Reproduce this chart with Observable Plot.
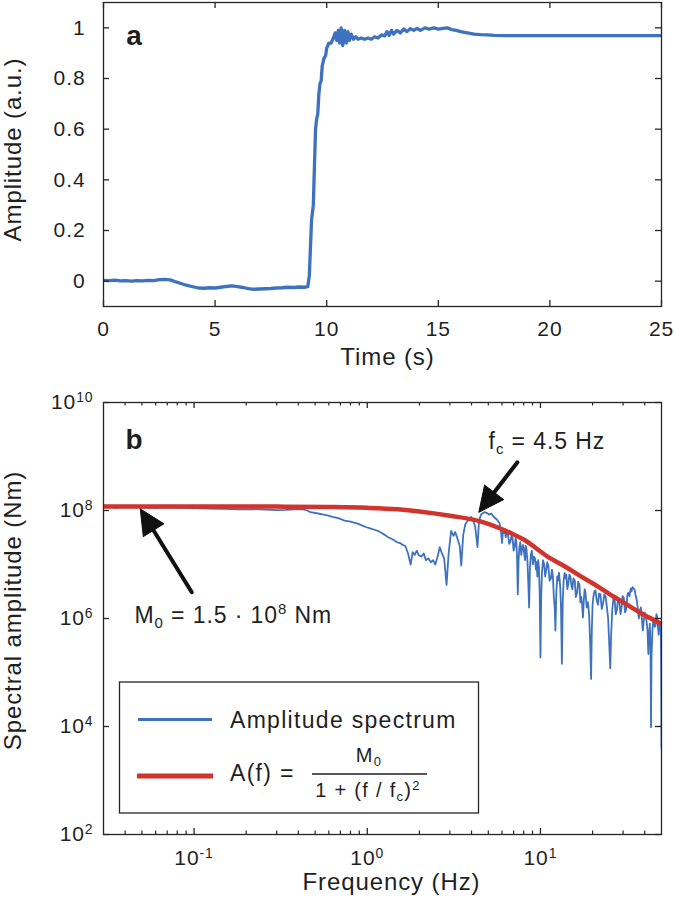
<!DOCTYPE html>
<html><head><meta charset="utf-8">
<script src="https://cdn.jsdelivr.net/npm/d3@7"></script>
<script src="https://cdn.jsdelivr.net/npm/@observablehq/plot@0.6"></script>
<style>
html,body{margin:0;padding:0;background:#fff;}
#wrap{position:relative;width:675px;height:902px;overflow:hidden;font-family:'Liberation Sans',Arial,Helvetica,sans-serif;}
#top,#bot{position:absolute;left:0;}
#top{top:0;} #bot{top:380px;}
#legend{position:absolute;left:0;top:0;pointer-events:none;}
</style></head><body><div id="wrap"><div id="top"></div><div id="bot"></div></div>
<script>
// ---------------- data: panel a (time series) ----------------
const timeSec = [0,0.25,0.5,0.75,1,1.25,1.5,1.75,2,2.25,2.5,2.75,3,3.25,3.5,3.75,4,4.25,4.5,4.75,5,5.25,5.5,5.75,6,6.25,6.5,6.75,7,7.25,7.5,7.75,8,8.25,8.5,8.75,9,9.15,9.22,9.28,9.32,9.36,9.4,9.45,9.5,9.55,9.6,9.65,9.7,9.75,9.8,9.88,9.95,10,10.1,10.2,10.3,10.38,10.45,10.52,10.58,10.65,10.72,10.8,10.88,10.95,11.02,11.1,11.2,11.3,11.4,11.55,11.7,11.85,12,12.15,12.3,12.45,12.6,12.7,12.8,12.9,13,13.15,13.3,13.45,13.6,13.75,13.9,14.05,14.2,14.4,14.6,14.8,15,15.2,15.4,15.6,15.8,16,16.3,16.6,16.9,17.2,17.5,18,19,20,22,25];
const amplitude = [0.003,0.002,0.004,0.001,0.002,0,0.002,0.001,0.003,0.002,0.006,0.007,0.005,-0.003,-0.01,-0.017,-0.022,-0.027,-0.028,-0.026,-0.027,-0.024,-0.021,-0.019,-0.022,-0.025,-0.029,-0.032,-0.031,-0.03,-0.029,-0.027,-0.026,-0.024,-0.025,-0.023,-0.024,-0.022,0.02,0.15,0.24,0.27,0.3,0.45,0.6,0.64,0.66,0.74,0.78,0.79,0.85,0.88,0.89,0.92,0.94,0.94,0.96,0.98,0.95,0.99,0.94,1.0,0.93,0.99,0.94,0.985,0.95,0.975,0.955,0.965,0.955,0.96,0.955,0.96,0.955,0.965,0.96,0.972,0.968,0.985,0.97,0.99,0.975,0.99,0.98,0.995,0.985,0.997,0.99,0.998,0.99,1.0,0.995,1.0,0.995,0.998,1.0,0.993,0.99,0.985,0.98,0.975,0.973,0.972,0.97,0.969,0.969,0.969,0.969,0.969];
const timeTicks = [0,5,10,15,20,25];
const ampTicks = [0,0.2,0.4,0.6,0.8,1];

// ---------------- data: panel b (spectrum) ----------------
const specFreq = [0.03,0.035,0.04,0.05,0.06,0.07,0.08,0.1,0.12,0.15,0.18,0.22,0.26,0.3,0.34,0.38,0.42,0.45,0.47,0.52,0.56,0.59,0.63,0.68,0.74,0.8,0.85,0.88,0.93,0.99,1.05,1.1,1.17,1.22,1.27,1.32,1.38,1.43,1.48,1.55,1.6,1.66,1.72,1.78,1.83,1.88,1.93,1.98,2.05,2.12,2.18,2.25,2.33,2.4,2.47,2.55,2.62,2.7,2.78,2.87,2.95,3.05,3.15,3.22,3.32,3.42,3.49,3.58,3.68,3.8,3.9,3.98,4.1,4.2,4.33,4.42,4.55,4.75,4.9,5.05,5.2,5.4,5.6,5.8,
  5.9,6.0,6.08,6.15,6.22,6.3,6.4,6.5,6.6,6.7,6.8,6.9,7.0,7.1,7.18,7.25,7.32,7.4,7.48,7.55,7.65,7.75,7.85,7.95,8.05,8.15,8.22,8.3,8.42,8.5,8.6,8.7,8.8,8.92,9.05,9.15,9.3,9.42,9.5,9.6,9.7,9.8,9.9,10.0,10.1,10.2,10.35,10.5,10.65,10.8,10.95,11.1,11.3,11.5,11.65,11.8,11.95,12.1,12.2,12.35,12.5,12.6,12.8,13.0,13.15,13.3,13.45,13.6,13.8,14.0,14.1,14.3,14.5,14.7,14.9,15.1,15.3,15.5,15.8,16.0,16.3,16.5,16.8,17.0,17.2,17.4,17.6,17.8,18.0,18.2,18.5,18.8,19.1,19.4,19.6,19.8,20.0,20.2,20.5,20.8,21.1,21.5,21.8,22.2,22.6,23.0,23.4,23.8,24.2,24.6,24.9,25.3,25.6,26.0,26.4,26.8,27.2,27.6,28.0,28.5,29.0,29.4,29.8,30.3,30.8,31.3,31.8,32.2,32.7,33.2,33.6,34.0,34.5,35.0,35.5,36.0,36.5,37.0,37.5,38.0,38.5,39.0,39.5,40.0,40.5,41.0,41.5,42.0,42.4,42.8,43.2,43.5,43.8,44.3,44.8,45.2,45.7,46.2,46.7,47.2,47.7,48.2,48.6,49.0,49.3,49.6,49.8,50.0];
const specAmp = [1.15e8,1.13e8,1.15e8,1.14e8,1.12e8,1.14e8,1.13e8,1.11e8,1.09e8,1.07e8,1.05e8,1.06e8,1.04e8,1.02e8,1.03e8,1.05e8,1.06e8,1.0e8,9.3e7,8.8e7,8.4e7,8.1e7,7.6e7,7.2e7,6.5e7,6.2e7,5.9e7,5.7e7,5.3e7,4.9e7,4.6e7,4.4e7,4.1e7,3.8e7,3.5e7,3.2e7,3.0e7,2.8e7,2.6e7,2.5e7,2.3e7,2.2e7,1.6e7,1.0e7,1.7e7,1.5e7,1.8e7,1.5e7,1.4e7,1.6e7,1.2e7,1.3e7,1.1e7,1.2e7,1.0e7,1.4e7,2.1e7,1.6e7,1.3e7,4.2e6,1.6e7,4.2e7,3.4e7,4.0e7,3.0e7,2.2e7,9.5e6,3.5e7,5.5e7,6.5e7,7.0e7,7.6e7,6.3e7,5.0e7,2.1e7,6.5e7,8.5e7,9.3e7,9.0e7,8.4e7,8.8e7,7.5e7,6.8e7,5.8e7,
  4.6e7,2.5e7,4.2e7,3.8e7,4.6e7,3.2e7,4.0e7,3.5e7,2.4e7,2.6e7,3.4e7,3.1e7,1.8e7,2.2e7,3.0e7,2.8e7,1.5e7,2.8e6,1.2e7,2.0e7,2.6e7,1.5e7,2.1e7,2.3e7,1.6e7,1.2e7,2.2e7,2.0e7,1.1e7,5.0e6,1.6e6,9.0e6,1.5e7,1.8e7,1.0e7,1.4e7,1.3e7,8.0e6,1.1e7,6.0e6,1.2e7,9.0e6,3.0e6,1.9e5,2.5e6,7.0e6,1.2e7,1.0e7,6.0e6,8.0e6,1.1e7,9.5e6,5.0e6,5.5e6,8.0e6,6.0e6,2.5e6,1.5e6,6.0e5,3.0e6,6.0e6,5.0e6,7.0e6,4.0e6,1.5e6,1.45e5,2.0e6,5.0e6,7.0e6,5.5e6,6.5e6,3.5e6,4.5e6,6.5e6,6.0e6,4.0e6,3.5e6,5.5e6,5.0e6,2.5e6,3.0e6,4.8e6,4.2e6,2.0e6,2.5e6,1.8e6,1.05e6,2.2e6,3.5e6,3.0e6,1.6e6,2.0e6,1.2e6,3.0e5,7.6e4,6.0e5,1.8e6,2.5e6,3.2e6,3.3e6,2.2e6,1.8e6,2.9e6,2.8e6,1.5e6,1.9e6,2.8e6,2.5e6,1.6e6,1.0e6,4.0e5,1.2e5,5.0e5,1.5e6,2.4e6,2.3e6,1.2e6,1.4e6,2.2e6,2.1e6,1.2e6,1.6e6,2.6e6,2.4e6,1.3e6,1.5e6,2.8e6,3.0e6,2.6e6,3.6e6,3.2e6,3.8e6,3.6e6,3.4e6,2.6e6,2.2e6,1.5e6,1.0e6,1.4e6,1.6e6,1.0e6,6.0e5,9.0e5,1.3e6,1.1e6,9.0e5,6.0e5,2.2e5,5.0e5,8.0e5,3.0e5,9.7e3,2.0e5,6.0e5,9.0e5,1.0e6,7.0e5,7.5e5,1.2e6,1.1e6,7.0e5,5.0e5,7.0e5,8.0e5,6.5e5,6.0e5,1.0e5,4.0e3];
const modelFreq = [0.03,0.1,0.3,0.6,1,1.5,2,3,4.5,6,7,8,11,14,17.3,20,26.7,30,40,50];
const modelAmp = [1.19e8,1.19e8,1.18e8,1.16e8,1.12e8,1.05e8,9.6e7,8.0e7,6.3e7,4.5e7,3.6e7,2.9e7,1.4e7,9.0e6,5.9e6,4.5e6,2.5e6,2.0e6,1.15e6,8.0e5];
const freqMajor = [0.1,1,10];
const freqMinor = [0.04,0.05,0.06,0.07,0.08,0.09,0.2,0.3,0.4,0.5,0.6,0.7,0.8,0.9,2,3,4,5,6,7,8,9,20,30,40];
const specTicks = [1e2,1e4,1e6,1e8,1e10];
const seriesNames = ["Amplitude spectrum", "A(f) ="];

// annotations (data coordinates)
const arrowFc = {f1: 7.36, A1: 7.8e8, f2: 4.41, A2: 9.3e7};
const arrowM0 = {f1: 0.097, A1: 3.07e6, f2: 0.0489, A2: 1.07e8};
const labelFc = {f: 5.02, A: 1.35e9, text: "fc = 4.5 Hz"};
const labelM0 = {f: 0.0453, A: 8.2e5, text: "M0 = 1.5 · 10^8 Nm"};

// ---------------- styling ----------------
const BLUE = "#3e72bf", RED = "#cf342d", INK = "#1f1f1f", FRAME = "#262626";
const FONT = "'Liberation Sans', Arial, Helvetica, sans-serif";
const W = 675, ML = 103, MR = 14;
const PW = W - ML - MR;

const timeData = timeSec.map((t, i) => ({t, a: amplitude[i]}));
const specData = specFreq.map((f, i) => ({f, A: specAmp[i]}));
const modelData = modelFreq.map((f, i) => ({f, A: modelAmp[i]}));
const supFmt = d => "10^" + Math.round(Math.log10(d));

// ---------------- panel a ----------------
const topH = 378, topMT = 2, topMB = 72, topPH = topH - topMT - topMB;
const plotA = Plot.plot({
  width: W, height: topH, marginTop: topMT, marginBottom: topMB, marginLeft: ML, marginRight: MR,
  style: `font-family:${FONT};font-size:21px;letter-spacing:0.9px;color:${INK};background:transparent;overflow:visible;`,
  x: {domain: [0, 25]},
  y: {domain: [-0.1, 1.1]},
  marks: [
    Plot.line(timeData, {x: "t", y: "a", stroke: BLUE, strokeWidth: 3.3, strokeLinejoin: "round", clip: true}),
    Plot.frame({stroke: FRAME, strokeWidth: 1.3}),
    Plot.tickX(timeTicks, {x: d => d, insetTop: topPH - 6, stroke: FRAME, strokeWidth: 1.3}),
    Plot.tickX(timeTicks, {x: d => d, insetBottom: topPH - 6, stroke: FRAME, strokeWidth: 1.3}),
    Plot.tickY(ampTicks, {y: d => d, insetRight: PW - 6, stroke: FRAME, strokeWidth: 1.3}),
    Plot.tickY(ampTicks, {y: d => d, insetLeft: PW - 6, stroke: FRAME, strokeWidth: 1.3}),
    Plot.axisX(timeTicks, {tickSize: 0, tickPadding: 15, tickFormat: d => String(d), label: null}),
    Plot.axisY(ampTicks, {tickSize: 0, tickPadding: 18, tickFormat: d => String(d), label: null}),
    Plot.text(["Time (s)"], {text: d => d, frameAnchor: "bottom", dy: 51, dx: 5, fontSize: 24, textAnchor: "middle", lineAnchor: "middle"}),
    Plot.text(["Amplitude (a.u.)"], {text: d => d, frameAnchor: "left", dx: -90, dy: -5, rotate: -90, fontSize: 24, textAnchor: "middle", lineAnchor: "middle"}),
    Plot.text(["a"], {text: d => d, frameAnchor: "top-left", dx: 22.7, dy: 42.5, lineAnchor: "bottom", textAnchor: "start", fontSize: 28, fontWeight: "bold"})
  ]
});
document.getElementById("top").appendChild(plotA);

// ---------------- panel b ----------------
const botH = 522, botMT = 22, botMB = 68, botPH = botH - botMT - botMB;
const headShape = {draw(ctx, l, r) { ctx.moveTo(-r, 0); ctx.lineTo(0, -l); ctx.lineTo(r, 0); ctx.closePath(); }};
const plotB = Plot.plot({
  width: W, height: botH, marginTop: botMT, marginBottom: botMB, marginLeft: ML, marginRight: MR,
  style: `font-family:${FONT};font-size:21px;letter-spacing:0.9px;color:${INK};background:transparent;overflow:visible;`,
  x: {type: "log", domain: [0.03, 50]},
  y: {type: "log", domain: [1e2, 1e10]},
  marks: [
    Plot.line(specData, {x: "f", y: "A", stroke: BLUE, strokeWidth: 1.8, strokeLinejoin: "round", clip: true}),
    Plot.line(modelData, {x: "f", y: "A", stroke: RED, strokeWidth: 4.5, curve: "monotone-x", clip: true}),
    Plot.frame({stroke: FRAME, strokeWidth: 1.3}),
    Plot.tickX(freqMajor, {x: d => d, insetTop: botPH - 6, stroke: FRAME, strokeWidth: 1.3}),
    Plot.tickX(freqMajor, {x: d => d, insetBottom: botPH - 6, stroke: FRAME, strokeWidth: 1.3}),
    Plot.tickX(freqMinor, {x: d => d, insetTop: botPH - 3.5, stroke: FRAME, strokeWidth: 1.2}),
    Plot.tickX(freqMinor, {x: d => d, insetBottom: botPH - 3.5, stroke: FRAME, strokeWidth: 1.2}),
    Plot.tickY(specTicks, {y: d => d, insetRight: PW - 6, stroke: FRAME, strokeWidth: 1.3}),
    Plot.tickY(specTicks, {y: d => d, insetLeft: PW - 6, stroke: FRAME, strokeWidth: 1.3}),
    Plot.axisX(freqMajor, {tickSize: 0, tickPadding: 16, tickFormat: supFmt, label: null}),
    Plot.axisY(specTicks, {tickSize: 0, tickPadding: 10, tickFormat: supFmt, label: null}),
    Plot.text(["Frequency (Hz)"], {text: d => d, frameAnchor: "bottom", dy: 48, dx: 9, fontSize: 24, textAnchor: "middle", lineAnchor: "middle"}),
    Plot.text(["Spectral amplitude (Nm)"], {text: d => d, frameAnchor: "left", dx: -90, dy: -8, rotate: -90, fontSize: 24, textAnchor: "middle", lineAnchor: "middle"}),
    Plot.text(["b"], {text: d => d, frameAnchor: "top-left", dx: 22, dy: 46, lineAnchor: "bottom", textAnchor: "start", fontSize: 28, fontWeight: "bold"}),
    Plot.arrow([arrowFc, arrowM0], {x1: "f1", y1: "A1", x2: "f2", y2: "A2", stroke: "#111", strokeWidth: 4, headLength: 0, insetEnd: 16}),
    Plot.vector([arrowFc], {x: "f2", y: "A2", length: 25, r: 12, rotate: 217.5, anchor: "end", shape: headShape, fill: "#111", stroke: "#111", strokeWidth: 1}),
    Plot.vector([arrowM0], {x: "f2", y: "A2", length: 25, r: 12, rotate: 328, anchor: "end", shape: headShape, fill: "#111", stroke: "#111", strokeWidth: 1}),
    Plot.text([labelFc, labelM0], {x: "f", y: "A", text: "text", lineAnchor: "bottom", textAnchor: "start", fontSize: 23})
  ]
});
document.getElementById("bot").appendChild(plotB);

// ---------------- rich text (sub/superscripts) ----------------
function rich(textEl, parts) {
  const t = d3.select(textEl);
  t.text(null);
  parts.forEach(p => {
    const s = t.append("tspan").text(p.s);
    if (p.size) s.attr("font-size", p.size);
    if (p.dy) s.attr("dy", p.dy);
  });
}
d3.select("#wrap").selectAll("text").each(function () {
  const s = this.textContent;
  let m;
  if ((m = /^10\^(-?\d+)$/.exec(s))) {
    rich(this, [{s: "10"}, {s: m[1], size: 14, dy: -7}]);
  } else if (s === labelFc.text) {
    rich(this, [{s: "f"}, {s: "c", size: 15, dy: 5}, {s: " = 4.5 Hz", dy: -5}]);
  } else if (s === labelM0.text) {
    rich(this, [{s: "M"}, {s: "0", size: 15, dy: 5}, {s: " = 1.5 · 10", dy: -5}, {s: "8", size: 15, dy: -9}, {s: " Nm", dy: 9}]);
  }
});

// ---------------- legend ----------------
const lg = d3.select("#wrap").append("svg").attr("id", "legend").attr("width", 675).attr("height", 902)
  .style("font-family", FONT).style("letter-spacing", "1.3px").attr("fill", INK);
lg.append("rect").attr("x", 119.5).attr("y", 682).attr("width", 359).attr("height", 131)
  .attr("fill", "#fff").attr("stroke", FRAME).attr("stroke-width", 1.3);
lg.append("line").attr("x1", 138).attr("x2", 212).attr("y1", 719.5).attr("y2", 719.5).attr("stroke", BLUE).attr("stroke-width", 3);
lg.append("text").attr("x", 230).attr("y", 728).attr("font-size", 23).text(seriesNames[0]);
lg.append("line").attr("x1", 137).attr("x2", 213).attr("y1", 776).attr("y2", 776).attr("stroke", RED).attr("stroke-width", 5);
lg.append("text").attr("x", 230).attr("y", 781).attr("font-size", 23).text(seriesNames[1]);
lg.append("line").attr("x1", 312).attr("x2", 427).attr("y1", 774).attr("y2", 774).attr("stroke", INK).attr("stroke-width", 1.5);
const num = lg.append("text").attr("x", 369).attr("y", 762).attr("font-size", 20).attr("text-anchor", "middle").node();
rich(num, [{s: "M"}, {s: "0", size: 13, dy: 4}]);
const den = lg.append("text").attr("x", 368).attr("y", 797).attr("font-size", 20).attr("text-anchor", "middle").node();
rich(den, [{s: "1 + (f / f"}, {s: "c", size: 13, dy: 4}, {s: ")", dy: -4}, {s: "2", size: 13, dy: -7}]);
</script>
</body></html>
